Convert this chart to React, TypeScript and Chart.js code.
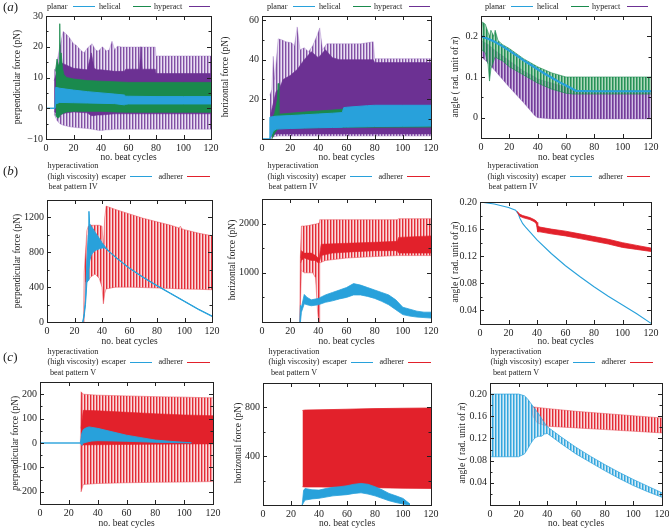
import React, { useEffect, useRef } from 'react';
import { Chart, registerables } from 'chart.js';

Chart.register(...registerables);

const SERIF = "'Liberation Serif', 'Times New Roman', Times, serif";
const INK = '#1e1e1e';
const BLUE = '#28a1db';
const GREEN = '#1a8a4d';
const PURPLE = '#6c3193';
const RED = '#e2212b';

// ---------- tick values ----------
const cycleTicks = [0, 20, 40, 60, 80, 100, 120];
const a1YTicks = [-10, -5, 0, 5, 10, 15, 20, 25, 30];
const a1YLabels = [-10, 0, 10, 20, 30];
const a2YTicks = [10, 20, 30, 40, 50, 60];
const a2YLabels = [20, 40, 60];
const a3YTicks = [0, 0.05, 0.1, 0.15, 0.2];
const a3YLabels = [0, 0.1, 0.2];
const b1YTicks = [0, 200, 400, 600, 800, 1000, 1200];
const b1YLabels = [0, 400, 800, 1200];
const b2YTicks = [500, 1000, 1500, 2000];
const b2YLabels = [1000, 2000];
const b3YTicks = [0.04, 0.06, 0.08, 0.1, 0.12, 0.14, 0.16, 0.18, 0.2];
const b3YLabels = [0.04, 0.08, 0.12, 0.16, 0.2];
const c1YTicks = [-200, -150, -100, -50, 0, 50, 100, 150, 200];
const c1YLabels = [-200, -100, 0, 100, 200];
const c2YTicks = [200, 400, 600, 800];
const c2YLabels = [400, 800];
const c3YTicks = [0.02, 0.04, 0.06, 0.08, 0.1, 0.12, 0.14, 0.16, 0.18, 0.2];
const c3YLabels = [0.04, 0.08, 0.12, 0.16, 0.2];

// ---------- (a) perpendicular force ----------
const a1PlanarX = [0, 6.5, 7, 10, 20, 30, 40, 50, 57, 58, 60, 80, 100, 120];
const a1PlanarHi = [0, 0, 6.8, 6.5, 5.9, 5.4, 5.0, 4.6, 4.3, 3.9, 3.9, 3.8, 3.8, 3.8];
const a1PlanarLo = [0, 0, 1.4, 1.9, 1.8, 1.7, 1.6, 1.5, 1.1, 1.3, 1.4, 1.4, 1.4, 1.4];
const a1HelicalX = [7, 8, 9, 9.7, 10, 10.3, 11, 12, 13, 15, 20, 30, 40, 50, 60, 80, 100, 120];
const a1HelicalHi = [12, 16, 14, 14, 27.5, 16, 18, 13, 11, 10, 9.5, 9, 8.8, 8.6, 8.4, 8.4, 8.4, 8.4];
const a1HelicalLo = [-2, -3, -3.2, -2.8, -2.5, -2.2, -2, -1.8, -1.5, -1.2, -1, -1, -1, -1.2, -1.3, -1.3, -1.3, -1.3];
const a1HyperX = [6, 7, 8, 10, 12.5, 15, 17, 20, 22, 25, 27.5, 30, 33.5, 36, 38, 41, 44, 46, 48, 50, 52, 55, 60, 70, 79.5, 80, 90, 100, 110, 120];
const a1HyperHi = [12.5, 13, 15, 20, 25, 24, 23, 21, 20.5, 19, 18, 19.5, 21, 19, 18.5, 20, 18.6, 19, 21.8, 19, 20.2, 19.9, 19.9, 19.9, 19.9, 17, 17, 17, 17, 17];
const a1HyperLo = [-2, -3, -4, -5, -5.5, -5.8, -6, -6.2, -6.3, -6.4, -6.5, -6.6, -6.8, -7, -7.2, -7.2, -7, -7, -6.9, -6.8, -6.8, -6.8, -6.8, -6.8, -6.8, -6.8, -6.8, -6.8, -6.8, -6.8];
const a1HyperDenseX = [6, 8, 10, 15, 20, 30, 33, 35, 37, 40, 50, 57, 58, 68, 69, 70, 79.5, 80, 120];
const a1HyperDenseHi = [9, 12, 15, 14, 13, 12.5, 18, 13, 12.5, 12.5, 12, 12, 12.7, 12.7, 20, 12.7, 12.7, 11.3, 11.3];
const a1HyperDenseLo = [-1, -2, -2, -1.5, -1.2, -1.5, -2.4, -2.4, -2.2, -2.2, -1.8, -1.8, -1.8, -1.8, -1.8, -1.8, -1.8, -1.8, -1.8];

// ---------- (a) horizontal force ----------
const a2PlanarX = [0, 5.5, 5.6, 8, 10, 20, 30, 40, 50, 57, 58, 60, 75, 80, 100, 120];
const a2PlanarHi = [0, 0, 11, 11.3, 11.5, 11.8, 12.2, 12.6, 13, 13.3, 15.8, 16, 16.8, 17, 17, 17];
const a2PlanarLo = [0, 0, 0, 4, 5, 5.3, 5.5, 5.7, 5.8, 5.9, 6, 6, 6.2, 6.3, 6.4, 6.5];
const a2HelicalX = [7, 9, 11, 11.5, 12, 20, 30, 40, 50, 57, 58, 120];
const a2HelicalHi = [10, 13, 20, 28, 12.5, 13, 13.6, 14.1, 14.6, 15, 15.5, 16];
const a2HelicalLo = [0, 3, 5, 5, 5.5, 5.5, 5.6, 5.7, 5.8, 5.8, 5.9, 6];
const a2HyperX = [5.5, 7, 8, 9, 11.5, 14, 17, 21, 23, 25, 27, 30, 33, 36, 39, 41, 43, 46, 50, 60, 70, 79, 80, 90, 100, 120];
const a2HyperHi = [22, 25, 41.7, 30, 50.5, 50, 49, 48.5, 47, 56.5, 45, 46, 44, 47, 52, 56, 45, 48, 48, 48, 48, 49, 40.5, 40.5, 40.5, 40.5];
const a2HyperLo = [0, 0.5, 1, 1.2, 1.5, 1.5, 1.5, 1.5, 1.5, 1.5, 1.5, 1.5, 1.5, 1.5, 1.5, 1.5, 1.5, 1.5, 1.5, 1.5, 1.5, 1.5, 1.5, 1.5, 1.5, 1.5];
const a2HyperDenseX = [6, 8, 10, 12, 15, 20, 25, 30, 35, 40, 45, 50, 55, 60, 70, 79, 80, 120];
const a2HyperDenseHi = [12, 18, 24, 25, 30, 32, 35, 40, 44, 41, 45, 41, 40, 40, 40, 40, 38.5, 38.5];
const a2HyperDenseLo = [1, 2, 2.5, 2.5, 2.5, 2.5, 2.5, 2.5, 2.5, 2.5, 2.5, 2.5, 2.5, 2.5, 2.5, 2.5, 2.5, 2.5];

// ---------- (a) angle ----------
const a3HyperX = [0, 5, 10, 20, 30, 38, 40, 50, 60, 65, 70, 80, 100, 120];
const a3HyperHi = [0.19, 0.18, 0.165, 0.14, 0.115, 0.1, 0.095, 0.085, 0.075, 0.068, 0.066, 0.066, 0.066, 0.066];
const a3HyperLo = [0.15, 0.135, 0.115, 0.075, 0.037, 0.005, 0, -0.003, -0.003, -0.003, -0.003, -0.003, -0.003, -0.003];
const a3HelicalX = [0, 1, 3, 5, 6, 7, 9, 10, 12, 15, 20, 30, 40, 50, 60, 65, 70, 120];
const a3HelicalHi = [0.21, 0.235, 0.23, 0.21, 0.2, 0.215, 0.2, 0.215, 0.19, 0.18, 0.17, 0.145, 0.125, 0.11, 0.1, 0.1, 0.1, 0.1];
const a3HelicalLo = [0.17, 0.165, 0.16, 0.13, 0.09, 0.12, 0.14, 0.15, 0.145, 0.14, 0.125, 0.105, 0.085, 0.07, 0.06, 0.058, 0.058, 0.058];
const a3PlanarX = [0, 5, 10, 15, 20, 25, 30, 35, 40, 45, 50, 55, 60, 65, 67, 80, 100, 120];
const a3PlanarY = [0.2, 0.194, 0.186, 0.176, 0.165, 0.153, 0.141, 0.13, 0.119, 0.108, 0.098, 0.088, 0.079, 0.07, 0.066, 0.065, 0.065, 0.065];

// ---------- (b) beat pattern IV ----------
const b1AdhX = [26.5, 27, 28, 29, 30, 32, 35, 38, 40, 41, 42, 43, 50, 60, 70, 80, 90, 96, 97, 98, 100, 110, 120];
const b1AdhHi = [0, 570, 800, 1050, 1100, 1110, 1110, 1110, 1100, 850, 1200, 1330, 1290, 1240, 1190, 1150, 1110, 1080, 1100, 1070, 1060, 1020, 990];
const b1AdhLo = [0, 0, 450, 480, 480, 520, 550, 500, 400, 208, 330, 380, 400, 400, 395, 390, 385, 380, 380, 380, 378, 375, 370];
const b1EscX = [26, 27, 28, 29, 30, 30.5, 31, 32, 33, 35, 38, 40, 42, 45, 50, 60, 70, 80, 90, 100, 110, 120];
const b1EscHi = [0, 100, 250, 700, 1000, 1270, 1130, 1100, 1080, 1030, 960, 910, 870, 815, 745, 620, 515, 420, 330, 240, 150, 70];
const b1EscLo = [0, 60, 200, 450, 480, 600, 700, 760, 790, 820, 840, 850, 850, 808, 738, 613, 508, 413, 323, 233, 143, 63];

const b2AdhX = [26.8, 27.2, 28, 30, 33, 36, 38, 39.5, 40.3, 40.6, 41, 45, 60, 80, 96, 97, 120];
const b2AdhHi = [0, 1300, 1950, 1950, 1960, 1980, 1990, 2000, 2010, 2010, 2080, 2080, 2080, 2080, 2080, 2100, 2100];
const b2AdhLo = [0, 300, 1050, 1000, 1000, 1000, 900, 200, 0, 0, 1200, 1250, 1300, 1330, 1350, 1350, 1350];
const b2AdhDenseX = [27.5, 28, 30, 35, 38, 40, 40.6, 42, 50, 60, 80, 96, 97, 120];
const b2AdhDenseHi = [1300, 1450, 1400, 1400, 1350, 1300, 1300, 1580, 1590, 1600, 1620, 1640, 1720, 1750];
const b2AdhDenseLo = [1200, 1250, 1300, 1250, 1250, 1200, 1200, 1350, 1400, 1420, 1450, 1450, 1400, 1400];
const b2EscX = [26.8, 27.3, 28, 30, 32, 35, 40, 45, 50, 55, 60, 65, 70, 75, 80, 85, 90, 95, 100, 105, 110, 115, 120];
const b2EscHi = [0, 340, 300, 560, 500, 450, 480, 550, 600, 650, 700, 780, 750, 700, 650, 600, 550, 450, 300, 260, 220, 200, 200];
const b2EscLo = [0, 0, 200, 370, 350, 330, 350, 400, 430, 470, 500, 550, 550, 520, 480, 420, 350, 250, 150, 120, 100, 90, 80];

const b3EscX = [0, 10, 20, 25, 27, 28, 30, 32, 35, 40, 50, 60, 70, 80, 90, 100, 110, 120];
const b3EscY = [0.2, 0.197, 0.192, 0.188, 0.182, 0.176, 0.168, 0.163, 0.156, 0.144, 0.124, 0.106, 0.09, 0.075, 0.061, 0.048, 0.035, 0.021];
const b3AdhX = [26, 28, 30, 35, 38, 39.5, 40, 40.5, 42, 50, 60, 70, 80, 90, 100, 110, 120];
const b3AdhHi = [0.186, 0.182, 0.18, 0.177, 0.174, 0.172, 0.17, 0.165, 0.163, 0.16, 0.157, 0.153, 0.149, 0.145, 0.14, 0.136, 0.132];
const b3AdhLo = [0.186, 0.179, 0.177, 0.174, 0.171, 0.168, 0.162, 0.156, 0.156, 0.153, 0.15, 0.146, 0.142, 0.138, 0.133, 0.13, 0.127];

// ---------- (c) beat pattern V ----------
const c1EscX = [0, 28, 29, 30, 32, 34, 36, 40, 50, 60, 70, 80, 90, 100, 105];
const c1EscHi = [0, 0, 40, 55, 62, 66, 64, 60, 46, 32, 22, 12, 7, 3, 1];
const c1EscLo = [0, 0, -10, 0, 3, 6, 8, 9.5, 8.5, 7, 5, 3, 2, 1, 0.5];
const c1AdhX = [28, 28.5, 30, 40, 60, 80, 100, 120];
const c1AdhHi = [0, 210, 200, 196, 193, 190, 188, 185];
const c1AdhLo = [0, -200, -170, -166, -163, -161, -160, -158];
const c1AdhDenseX = [28.5, 30, 40, 60, 80, 100, 120];
const c1AdhDenseHi = [60, 134, 132, 126, 120, 115, 112];
const c1AdhDenseLo = [-10, -8, -7, -6, -5, -4, -4];

const c2AdhX = [28.2, 30, 40, 60, 80, 100, 120];
const c2AdhHi = [775, 778, 780, 785, 790, 793, 795];
const c2AdhLo = [150, 148, 148, 145, 142, 138, 136];
const c2EscX = [28, 29, 30, 35, 40, 45, 50, 55, 60, 65, 70, 75, 80, 85, 90, 95, 100, 105];
const c2EscHi = [0, 120, 135, 125, 122, 135, 145, 150, 158, 170, 177, 170, 150, 125, 95, 75, 54, 8];
const c2EscLo = [0, 20, 40, 50, 55, 65, 75, 80, 85, 95, 100, 90, 75, 55, 35, 20, 8, 0];

const c3EscX = [0, 1, 20, 24, 26, 28, 30, 32, 34, 36, 38, 40, 50, 60, 70, 80, 90, 100, 110, 120];
const c3EscHi = [0.2, 0.2, 0.2, 0.197, 0.192, 0.185, 0.178, 0.171, 0.164, 0.156, 0.148, 0.141, 0.122, 0.104, 0.088, 0.073, 0.059, 0.046, 0.034, 0.022];
const c3EscLo = [0.09, 0.087, 0.087, 0.092, 0.1, 0.109, 0.117, 0.122, 0.124, 0.124, 0.128, 0.129, 0.11, 0.092, 0.077, 0.062, 0.048, 0.035, 0.024, 0.014];
const c3AdhX = [29, 30, 33, 40, 60, 80, 100, 120];
const c3AdhHi = [0.178, 0.177, 0.176, 0.174, 0.169, 0.165, 0.161, 0.157];
const c3AdhLo = [0.172, 0.16, 0.148, 0.142, 0.139, 0.136, 0.133, 0.13];

// ---------- styles ----------
const PATTERNS: Record<string, string[]> = {
  purple: ['rgba(108,49,147,0.85)', 'rgba(140,95,180,0.55)', 'rgba(195,170,222,0.35)'],
  purpleDense: ['rgba(108,49,147,0.95)', 'rgba(125,70,165,0.8)', 'rgba(170,135,205,0.55)'],
  green: ['rgba(26,138,77,0.95)', 'rgba(50,155,95,0.75)', 'rgba(110,185,135,0.55)'],
  red: ['rgba(226,33,43,0.95)', 'rgba(232,80,90,0.6)', 'rgba(245,165,170,0.4)'],
  blue: ['rgba(40,161,219,0.95)', 'rgba(80,178,226,0.7)', 'rgba(160,210,236,0.45)'],
};

type Fill = string | { pattern: string };
type Series =
  | { kind: 'band'; x: number[]; hi: number[]; lo: number[]; fill: Fill; border: string; bw: number }
  | { kind: 'line'; x: number[]; y: number[]; color: string; bw: number };

const band = (x: number[], hi: number[], lo: number[], fill: Fill, border: string, bw = 0.8): Series => ({ kind: 'band', x, hi, lo, fill, border, bw });
const line = (x: number[], y: number[], color: string, bw = 1): Series => ({ kind: 'line', x, y, color, bw });

const int = (v: number) => (v < 0 ? '\u2212' + Math.abs(v) : String(v));
const dec1 = (v: number) => String(v);
const dec2 = (v: number) => (v === 0 ? '0' : v.toFixed(2));

type PanelCfg = {
  key: string; L: number; T: number; R: number; B: number;
  yMin: number; yMax: number; yTicks: number[]; yLabels: number[]; fmt: (v: number) => string;
  series: Series[];
};

const PANELS: PanelCfg[] = [
  {
    key: 'a1', L: 46, T: 15, R: 211, B: 139, yMin: -10, yMax: 30, yTicks: a1YTicks, yLabels: a1YLabels, fmt: int,
    series: [
      band(a1HyperX, a1HyperHi, a1HyperLo, { pattern: 'purple' }, 'rgba(150,110,190,0.6)', 0.6),
      band(a1HyperDenseX, a1HyperDenseHi, a1HyperDenseLo, PURPLE, PURPLE, 0.6),
      band(a1HelicalX, a1HelicalHi, a1HelicalLo, GREEN, GREEN, 0.8),
      band(a1PlanarX, a1PlanarHi, a1PlanarLo, BLUE, BLUE, 1),
    ],
  },
  {
    key: 'a2', L: 262, T: 15, R: 431, B: 139, yMin: 0, yMax: 62, yTicks: a2YTicks, yLabels: a2YLabels, fmt: int,
    series: [
      band(a2HyperX, a2HyperHi, a2HyperLo, { pattern: 'purple' }, 'rgba(150,110,190,0.6)', 0.6),
      band(a2HyperDenseX, a2HyperDenseHi, a2HyperDenseLo, PURPLE, PURPLE, 0.6),
      band(a2HelicalX, a2HelicalHi, a2HelicalLo, GREEN, GREEN, 0.8),
      band(a2PlanarX, a2PlanarHi, a2PlanarLo, BLUE, BLUE, 1),
    ],
  },
  {
    key: 'a3', L: 481, T: 15, R: 651, B: 138, yMin: -0.05, yMax: 0.25, yTicks: a3YTicks, yLabels: a3YLabels, fmt: dec1,
    series: [
      band(a3HyperX, a3HyperHi, a3HyperLo, { pattern: 'purpleDense' }, 'rgba(140,95,180,0.7)', 0.6),
      band(a3HelicalX, a3HelicalHi, a3HelicalLo, { pattern: 'green' }, GREEN, 0.6),
      line(a3PlanarX, a3PlanarY, BLUE, 2.2),
    ],
  },
  {
    key: 'b1', L: 47, T: 199, R: 212, B: 322, yMin: 0, yMax: 1400, yTicks: b1YTicks, yLabels: b1YLabels, fmt: int,
    series: [
      band(b1AdhX, b1AdhHi, b1AdhLo, { pattern: 'red' }, 'rgba(230,70,80,0.8)', 0.6),
      band(b1EscX, b1EscHi, b1EscLo, BLUE, BLUE, 1),
    ],
  },
  {
    key: 'b2', L: 262, T: 198, R: 431, B: 322, yMin: 0, yMax: 2500, yTicks: b2YTicks, yLabels: b2YLabels, fmt: int,
    series: [
      band(b2AdhX, b2AdhHi, b2AdhLo, { pattern: 'red' }, 'rgba(230,70,80,0.8)', 0.6),
      band(b2AdhDenseX, b2AdhDenseHi, b2AdhDenseLo, RED, RED, 0.6),
      band(b2EscX, b2EscHi, b2EscLo, BLUE, BLUE, 0.8),
    ],
  },
  {
    key: 'b3', L: 480, T: 201, R: 651, B: 324, yMin: 0.02, yMax: 0.2, yTicks: b3YTicks, yLabels: b3YLabels, fmt: dec2,
    series: [
      line(b3EscX, b3EscY, BLUE, 1.1),
      band(b3AdhX, b3AdhHi, b3AdhLo, RED, RED, 0.8),
    ],
  },
  {
    key: 'c1', L: 40, T: 381, R: 213, B: 504, yMin: -250, yMax: 250, yTicks: c1YTicks, yLabels: c1YLabels, fmt: int,
    series: [
      band(c1AdhX, c1AdhHi, c1AdhLo, { pattern: 'red' }, 'rgba(230,70,80,0.8)', 0.6),
      band(c1AdhDenseX, c1AdhDenseHi, c1AdhDenseLo, RED, RED, 0.6),
      band(c1EscX, c1EscHi, c1EscLo, BLUE, BLUE, 0.9),
    ],
  },
  {
    key: 'c2', L: 263, T: 382, R: 431, B: 505, yMin: 0, yMax: 1000, yTicks: c2YTicks, yLabels: c2YLabels, fmt: int,
    series: [
      band(c2AdhX, c2AdhHi, c2AdhLo, RED, RED, 0.8),
      band(c2EscX, c2EscHi, c2EscLo, BLUE, BLUE, 0.8),
    ],
  },
  {
    key: 'c3', L: 490, T: 382, R: 662, B: 505, yMin: 0, yMax: 0.22, yTicks: c3YTicks, yLabels: c3YLabels, fmt: dec2,
    series: [
      band(c3AdhX, c3AdhHi, c3AdhLo, { pattern: 'red' }, 'rgba(230,70,80,0.8)', 0.6),
      band(c3EscX, c3EscHi, c3EscLo, { pattern: 'blue' }, BLUE, 0.7),
    ],
  },
];

const YW = 40;
const PR = 12;
const PT = 8;
const XH = 16;

const frameTicks = {
  id: 'frameTicks',
  afterDatasetsDraw(chart: any) {
    const { ctx, chartArea, scales } = chart;
    const { left, right, top, bottom } = chartArea;
    ctx.save();
    ctx.strokeStyle = '#222';
    ctx.lineWidth = 1;
    ctx.beginPath();
    const ys = scales.y;
    ys.ticks.forEach((t: any) => {
      if (t.value <= ys.min || t.value >= ys.max) return;
      const len = t.label === '' ? 2.5 : 4;
      const py = Math.round(ys.getPixelForValue(t.value)) + 0.5;
      ctx.moveTo(left, py); ctx.lineTo(left + len, py);
      ctx.moveTo(right, py); ctx.lineTo(right - len, py);
    });
    const xs = scales.x;
    xs.ticks.forEach((t: any) => {
      if (t.value <= xs.min || t.value >= xs.max) return;
      const px = Math.round(xs.getPixelForValue(t.value)) + 0.5;
      ctx.moveTo(px, bottom); ctx.lineTo(px, bottom - 4);
      ctx.moveTo(px, top); ctx.lineTo(px, top + 4);
    });
    ctx.stroke();
    ctx.strokeRect(Math.round(left) + 0.5, Math.round(top) + 0.5, Math.round(right - left), Math.round(bottom - top));
    ctx.restore();
  },
};

function makePattern(ctx: CanvasRenderingContext2D, cols: string[]) {
  const c = document.createElement('canvas');
  c.width = cols.length;
  c.height = 1;
  const g = c.getContext('2d')!;
  cols.forEach((col, i) => { g.fillStyle = col; g.fillRect(i, 0, 1, 1); });
  return ctx.createPattern(c, 'repeat');
}

function Panel({ cfg }: { cfg: PanelCfg }) {
  const ref = useRef<HTMLCanvasElement>(null);
  const w = cfg.R - cfg.L + YW + PR;
  const h = cfg.B - cfg.T + PT + XH;
  useEffect(() => {
    const canvas = ref.current!;
    const ctx = canvas.getContext('2d')!;
    const pts = (xs: number[], ys: number[]) => xs.map((x, i) => ({ x, y: ys[i] }));
    const datasets: any[] = [];
    const n = cfg.series.length;
    cfg.series.forEach((s, i) => {
      const order = n - i;
      if (s.kind === 'band') {
        const bg = typeof s.fill === 'string' ? s.fill : makePattern(ctx, PATTERNS[s.fill.pattern]);
        datasets.push({ data: pts(s.x, s.hi), borderColor: s.border, borderWidth: s.bw, pointRadius: 0, fill: false, order });
        datasets.push({ data: pts(s.x, s.lo), borderColor: s.border, borderWidth: s.bw, pointRadius: 0, fill: '-1', backgroundColor: bg, order });
      } else {
        datasets.push({ data: pts(s.x, s.y), borderColor: s.color, borderWidth: s.bw, pointRadius: 0, fill: false, order });
      }
    });
    const tickFont = { family: SERIF, size: 10 };
    const chart = new Chart(canvas, {
      type: 'line',
      data: { datasets },
      options: {
        animation: false,
        responsive: false,
        devicePixelRatio: 1,
        events: [],
        layout: { padding: { top: PT, right: PR, left: 0, bottom: 0 } },
        elements: { line: { tension: 0 }, point: { radius: 0 } },
        plugins: { legend: { display: false }, tooltip: { enabled: false } },
        scales: {
          x: {
            type: 'linear', min: 0, max: 120,
            grid: { display: false, drawTicks: false, tickLength: 0 }, border: { display: false },
            afterFit: (s: any) => { s.height = XH; },
            afterBuildTicks: (s: any) => { s.ticks = cycleTicks.map((value) => ({ value })); },
            ticks: { autoSkip: false, maxRotation: 0, padding: 3, color: INK, font: tickFont, callback: (v: any) => String(v) },
          },
          y: {
            type: 'linear', min: cfg.yMin, max: cfg.yMax,
            grid: { display: false, drawTicks: false, tickLength: 0 }, border: { display: false },
            afterFit: (s: any) => { s.width = YW; },
            afterBuildTicks: (s: any) => { s.ticks = cfg.yTicks.map((value) => ({ value })); },
            ticks: {
              autoSkip: false, padding: 3, color: INK, font: tickFont,
              callback: (v: any) => (cfg.yLabels.includes(v) ? cfg.fmt(v) : ''),
            },
          },
        },
      } as any,
      plugins: [frameTicks],
    });
    return () => chart.destroy();
  }, []);
  return (
    <canvas
      ref={ref}
      width={w}
      height={h}
      style={{ position: 'absolute', left: cfg.L - YW, top: cfg.T - PT, width: w, height: h }}
    />
  );
}

const LEG = 8.2;

function Txt({ x, y, size = LEG, align = 'left', children }: any) {
  const style: any = {
    position: 'absolute', top: Math.round(y - size * 0.62), fontSize: size,
    lineHeight: `${Math.round(size * 1.2)}px`, whiteSpace: 'nowrap', color: INK,
  };
  if (align === 'right') {
    style.right = 669 - Math.round(x);
    style.textAlign = 'right';
  } else if (align === 'center') {
    style.left = Math.round(x) - 40;
    style.width = 80;
    style.textAlign = 'center';
  } else {
    style.left = Math.round(x);
  }
  return <div style={style}>{children}</div>;
}

function Seg({ x1, x2, y, color }: any) {
  return <div style={{ position: 'absolute', left: x1, top: y - 0.6, width: x2 - x1, height: 1.2, background: color }} />;
}

function YTitle({ x, y, children }: any) {
  return (
    <div style={{ position: 'absolute', left: x, top: y, fontSize: 9.5, whiteSpace: 'nowrap', transform: 'translate(-50%,-50%) rotate(-90deg)' }}>
      {children}
    </div>
  );
}

function XTitle({ x, y }: any) {
  return (
    <div style={{ position: 'absolute', left: x, top: y, fontSize: 9.5, whiteSpace: 'nowrap', transform: 'translate(-50%,-50%)' }}>
      no. beat cycles
    </div>
  );
}

function LegendA({ base, y }: any) {
  return (
    <>
      <Txt x={base} y={y}>planar</Txt>
      <Seg x1={base + 26} x2={base + 48} y={y} color={BLUE} />
      <Txt x={base + 51.5} y={y}>helical</Txt>
      <Seg x1={base + 86} x2={base + 104} y={y} color={GREEN} />
      <Txt x={base + 106.5} y={y}>hyperact</Txt>
      <Seg x1={base + 142} x2={base + 163} y={y} color={PURPLE} />
    </>
  );
}

function LegendBC({ base, y, pattern }: any) {
  return (
    <>
      <Txt x={base + 26} y={y[0]} align="center">hyperactivation</Txt>
      <Txt x={base + 26} y={y[1]} align="center">(high viscosity)</Txt>
      <Txt x={base + 26} y={y[2]} align="center">{pattern}</Txt>
      <Txt x={base + 79} y={y[1]} align="right">escaper</Txt>
      <Seg x1={base + 83} x2={base + 105} y={y[1]} color={BLUE} />
      <Txt x={base + 136} y={y[1]} align="right">adherer</Txt>
      <Seg x1={base + 140} x2={base + 163} y={y[1]} color={RED} />
    </>
  );
}

function PanelLabel({ y, letter }: any) {
  return (
    <div style={{ position: 'absolute', left: 3, top: y - 8, fontSize: 13, lineHeight: '16px' }}>
      (<i>{letter}</i>)
    </div>
  );
}

const angleTitle = <>angle ( rad. unit of <i>π</i>)</>;

export default function App() {
  const rowB = [165.7, 176.7, 187];
  const rowC = [351.7, 362.5, 373];
  return (
    <div style={{ position: 'absolute', left: 0, top: 0, width: 669, height: 528, background: '#fff', fontFamily: SERIF, color: INK, overflow: 'hidden' }}>
      {PANELS.map((p) => <Panel key={p.key} cfg={p} />)}

      <div style={{ position: 'absolute', left: 0, top: 0, width: 669, height: 528, willChange: 'transform', pointerEvents: 'none' }}>
        <PanelLabel y={7} letter="a" />
        <PanelLabel y={171} letter="b" />
        <PanelLabel y={357} letter="c" />

        <LegendA base={47} y={6.7} />
        <LegendA base={267} y={6.7} />
        <LegendA base={485} y={6.7} />

        <LegendBC base={47} y={rowB} pattern="beat pattern IV" />
        <LegendBC base={267} y={rowB} pattern="beat pattern IV" />
        <LegendBC base={487} y={rowB} pattern="beat pattern IV" />

        <LegendBC base={47} y={rowC} pattern="beat pattern V" />
        <LegendBC base={268} y={rowC} pattern="beat pattern V" />
        <LegendBC base={490} y={rowC} pattern="beat pattern V" />

        <YTitle x={16.7} y={77}>perpendicular force (pN)</YTitle>
        <YTitle x={225} y={77}>horizontal force (pN)</YTitle>
        <YTitle x={455} y={77}>{angleTitle}</YTitle>
        <YTitle x={16.7} y={260.5}>perpendicular force (pN)</YTitle>
        <YTitle x={231.7} y={260}>horizontal force (pN)</YTitle>
        <YTitle x={455} y={262}>{angleTitle}</YTitle>
        <YTitle x={15} y={443}>perpendicular force (pN)</YTitle>
        <YTitle x={238.3} y={443}>horizontal force (pN)</YTitle>
        <YTitle x={461.7} y={443}>{angleTitle}</YTitle>

        <XTitle x={128.5} y={156.7} />
        <XTitle x={346.5} y={156.7} />
        <XTitle x={566} y={156.7} />
        <XTitle x={129.5} y={340.5} />
        <XTitle x={346.5} y={340.5} />
        <XTitle x={565.5} y={340.5} />
        <XTitle x={126.5} y={523} />
        <XTitle x={347} y={523} />
        <XTitle x={576} y={523} />
      </div>
    </div>
  );
}
